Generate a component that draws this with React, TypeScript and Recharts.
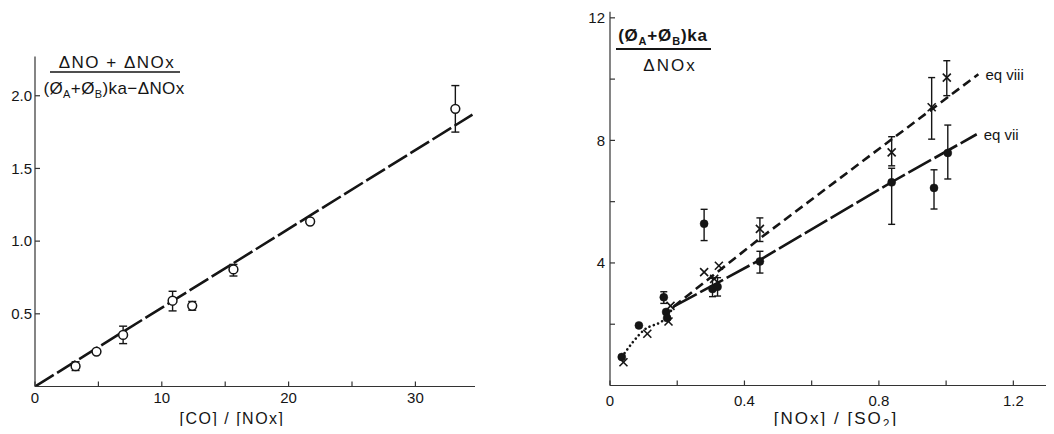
import React from 'react';
import { ComposedChart, Line, Scatter, XAxis, YAxis, ErrorBar, Label, ReferenceDot } from 'recharts';

// ---------- Left panel: [CO]/[NOx] ----------
const coRatio = [3.2, 4.85, 6.95, 10.85, 12.4, 15.65, 21.7, 33.15];
const coValue = [0.14, 0.24, 0.355, 0.59, 0.555, 0.805, 1.135, 1.91];
const coErrLow: (number | null)[] = [0.03, null, 0.06, 0.07, 0.03, 0.045, null, 0.16];
const coErrHigh: (number | null)[] = [0.03, null, 0.06, 0.065, 0.03, 0.035, null, 0.16];
const coFitX = [0, 34.5];
const coFitY = [0, 1.87];
const coXTicks = [0, 5, 10, 15, 20, 25, 30];
const coXTickLabels = ['0', '', '10', '', '20', '', '30'];
const coYTicks = [0.5, 1.0, 1.5, 2.0];
const coYTickLabels = ['0.5', '1.0', '1.5', '2.0'];

// ---------- Right panel: [NOx]/[SO2] ----------
const dotX = [0.035, 0.086, 0.16, 0.167, 0.17, 0.28, 0.305, 0.32, 0.446, 0.838, 0.964, 1.005];
const dotY = [0.93, 1.96, 2.88, 2.4, 2.2, 5.28, 3.15, 3.22, 4.05, 6.63, 6.45, 7.59];
const dotErrLow: (number | null)[] = [null, null, 0.2, null, null, 0.55, 0.25, 0.3, 0.38, 1.37, 0.69, 0.85];
const dotErrHigh: (number | null)[] = [null, null, 0.18, null, null, 0.47, 0.35, 0.3, 0.33, 0.46, 0.59, 0.91];

const crossX = [0.04, 0.111, 0.174, 0.18, 0.28, 0.31, 0.324, 0.446, 0.838, 0.957, 1.002];
const crossY = [0.76, 1.69, 2.09, 2.6, 3.7, 3.48, 3.91, 5.11, 7.61, 9.08, 10.05];
const crossErrLow: (number | null)[] = [null, null, null, null, null, null, null, 0.41, 0.44, 1.04, 0.59];
const crossErrHigh: (number | null)[] = [null, null, null, null, null, null, null, 0.36, 0.51, 0.97, 0.55];

const dottedX = [0.035, 0.1, 0.165, 0.19];
const dottedY = [0.93, 1.8, 2.2, 2.58];
const eqViiiX = [0.19, 0.446, 0.84, 1.096];
const eqViiiY = [2.58, 4.8, 8.05, 10.16];
const eqViiX = [0.19, 0.446, 0.84, 1.091];
const eqViiY = [2.58, 4.1, 6.65, 8.2];

const soXTicks = [0, 0.2, 0.4, 0.6, 0.8, 1.0, 1.2];
const soXTickLabels = ['0', '', '0.4', '', '0.8', '', '1.2'];
const soYTicks = [2, 4, 6, 8, 10, 12];
const soYTickLabels = ['', '4', '', '8', '', '12'];

// ---------- build tables ----------
const toPoints = (xs: number[], ys: number[], lo?: (number | null)[], hi?: (number | null)[]) =>
  xs.map((x, i) => ({
    x,
    y: ys[i],
    err: lo && hi && lo[i] != null && hi[i] != null ? [lo[i] as number, hi[i] as number] : null,
  }));

const coPoints = toPoints(coRatio, coValue, coErrLow, coErrHigh);
const coFit = toPoints(coFitX, coFitY);
const dotPoints = toPoints(dotX, dotY, dotErrLow, dotErrHigh);
const crossPoints = toPoints(crossX, crossY, crossErrLow, crossErrHigh);
const dottedLine = toPoints(dottedX, dottedY);
const eqViiiLine = toPoints(eqViiiX, eqViiiY);
const eqViiLine = toPoints(eqViiX, eqViiY);

const FONT = '"Liberation Sans", Arial, sans-serif';
const INK = '#151515';
const AXIS = '#333';
const tickStyle = { fill: INK, fontSize: 15, fontFamily: FONT };

const OpenCircle = (p: any) =>
  p.cx == null ? null : <circle cx={p.cx} cy={p.cy} r={4.4} fill="#fff" stroke={INK} strokeWidth={1.5} />;
const FilledCircle = (p: any) =>
  p.cx == null ? null : <circle cx={p.cx} cy={p.cy} r={4} fill={INK} stroke={INK} strokeWidth={0.5} />;
const Cross = (p: any) => {
  if (p.cx == null) return null;
  const s = 4;
  return (
    <g stroke={INK} strokeWidth={1.6}>
      <line x1={p.cx - s} y1={p.cy - s} x2={p.cx + s} y2={p.cy + s} />
      <line x1={p.cx - s} y1={p.cy + s} x2={p.cx + s} y2={p.cy - s} />
    </g>
  );
};

const LeftYLabel = () => (
  <g fontFamily={FONT} fill={INK} fontSize={17}>
    <text x={117} y={68} textAnchor="middle" letterSpacing={1.5}>
      ΔNO + ΔNOx
    </text>
    <line x1={50} y1={72} x2={180} y2={72} stroke={INK} strokeWidth={1.6} />
    <text x={114} y={94} textAnchor="middle" letterSpacing={0.4}>
      <tspan>(Ø</tspan>
      <tspan dy={4} fontSize={11}>A</tspan>
      <tspan dy={-4}>+Ø</tspan>
      <tspan dy={4} fontSize={11}>B</tspan>
      <tspan dy={-4}>)ka−ΔNOx</tspan>
    </text>
  </g>
);

const LeftXLabel = () => (
  <text x={232} y={424} textAnchor="middle" fontFamily={FONT} fontSize={16} letterSpacing={1.5} fill={INK}>
    [CO] / [NOx]
  </text>
);

// right svg is offset by 540px
const RightYLabel = () => (
  <g fontFamily={FONT} fill={INK} fontSize={17}>
    <text x={123} y={41} textAnchor="middle" fontWeight="bold" letterSpacing={0.8}>
      <tspan>(Ø</tspan>
      <tspan dy={4} fontSize={11}>A</tspan>
      <tspan dy={-4}>+Ø</tspan>
      <tspan dy={4} fontSize={11}>B</tspan>
      <tspan dy={-4}>)ka</tspan>
    </text>
    <line x1={76} y1={49} x2={171} y2={49} stroke={INK} strokeWidth={1.8} />
    <text x={130} y={71} textAnchor="middle" letterSpacing={2}>
      ΔNOx
    </text>
  </g>
);

const RightXLabel = () => (
  <text x={296} y={424} textAnchor="middle" fontFamily={FONT} fontSize={17} letterSpacing={2} fill={INK}>
    <tspan>[NOx] / [SO</tspan>
    <tspan dy={4} fontSize={12}>2</tspan>
    <tspan dy={-4}>]</tspan>
  </text>
);

const eqLabel = (value: string) => ({
  value,
  position: 'right' as const,
  offset: 7,
  fill: INK,
  fontSize: 15,
  fontFamily: FONT,
});

export default function App() {
  return (
    <div style={{ position: 'relative', width: 1054, height: 434, margin: -8, background: '#fff', overflow: 'hidden' }}>
      <div style={{ position: 'absolute', left: 0, top: 0 }}>
        <ComposedChart width={520} height={434} margin={{ top: 56.5, right: 45, bottom: 17.5, left: 0 }}>
          <XAxis
            dataKey="x"
            type="number"
            domain={[0, 34.7]}
            allowDataOverflow
            ticks={coXTicks}
            tickFormatter={(_v: any, i: number) => coXTickLabels[i]}
            interval={0}
            height={30}
            tickSize={-5}
            tickMargin={11}
            tick={tickStyle}
            axisLine={{ stroke: AXIS, strokeWidth: 1.2 }}
            tickLine={{ stroke: AXIS, strokeWidth: 1.2 }}
          >
            <Label content={() => <LeftXLabel />} />
          </XAxis>
          <YAxis
            dataKey="y"
            type="number"
            domain={[0, 2.27]}
            allowDataOverflow
            ticks={coYTicks}
            tickFormatter={(_v: any, i: number) => coYTickLabels[i]}
            interval={0}
            width={35}
            tickSize={-5}
            tickMargin={8}
            tick={tickStyle}
            axisLine={{ stroke: AXIS, strokeWidth: 1.2 }}
            tickLine={{ stroke: AXIS, strokeWidth: 1.2 }}
          >
            <Label content={() => <LeftYLabel />} />
          </YAxis>
          <Line
            data={coFit}
            dataKey="y"
            type="linear"
            stroke={INK}
            strokeWidth={2.6}
            strokeDasharray="22 4"
            dot={false}
            activeDot={false}
            isAnimationActive={false}
          />
          <Scatter data={coPoints} dataKey="y" shape={OpenCircle} isAnimationActive={false}>
            <ErrorBar dataKey="err" direction="y" width={4} stroke={INK} strokeWidth={1.4} />
          </Scatter>
        </ComposedChart>
      </div>
      <div style={{ position: 'absolute', left: 540, top: 0 }}>
        <ComposedChart width={514} height={434} margin={{ top: 11.7, right: 1, bottom: 18.5, left: 0 }}>
          <XAxis
            dataKey="x"
            type="number"
            domain={[0, 1.318]}
            allowDataOverflow
            ticks={soXTicks}
            tickFormatter={(_v: any, i: number) => soXTickLabels[i]}
            interval={0}
            height={30}
            tickSize={-5}
            tickMargin={15}
            tick={tickStyle}
            axisLine={{ stroke: AXIS, strokeWidth: 1.2 }}
            tickLine={{ stroke: AXIS, strokeWidth: 1.2 }}
          >
            <Label content={() => <RightXLabel />} />
          </XAxis>
          <YAxis
            dataKey="y"
            type="number"
            domain={[0, 12.2]}
            allowDataOverflow
            ticks={soYTicks}
            tickFormatter={(_v: any, i: number) => soYTickLabels[i]}
            interval={0}
            width={70}
            tickSize={-5}
            tickMargin={10}
            tick={tickStyle}
            axisLine={{ stroke: AXIS, strokeWidth: 1.2 }}
            tickLine={{ stroke: AXIS, strokeWidth: 1.2 }}
          >
            <Label content={() => <RightYLabel />} />
          </YAxis>
          <Line
            data={dottedLine}
            dataKey="y"
            type="monotone"
            stroke={INK}
            strokeWidth={2.6}
            strokeLinecap="round"
            strokeDasharray="0.1 4.5"
            dot={false}
            activeDot={false}
            isAnimationActive={false}
          />
          <Line
            data={eqViiiLine}
            dataKey="y"
            type="linear"
            stroke={INK}
            strokeWidth={2.6}
            strokeDasharray="9 5"
            dot={false}
            activeDot={false}
            isAnimationActive={false}
          />
          <Line
            data={eqViiLine}
            dataKey="y"
            type="linear"
            stroke={INK}
            strokeWidth={2.6}
            strokeDasharray="26 4"
            dot={false}
            activeDot={false}
            isAnimationActive={false}
          />
          <Scatter data={dotPoints} dataKey="y" shape={FilledCircle} isAnimationActive={false}>
            <ErrorBar dataKey="err" direction="y" width={3.5} stroke={INK} strokeWidth={1.4} />
          </Scatter>
          <Scatter data={crossPoints} dataKey="y" shape={Cross} isAnimationActive={false}>
            <ErrorBar dataKey="err" direction="y" width={3.5} stroke={INK} strokeWidth={1.4} />
          </Scatter>
          <ReferenceDot
            x={eqViiiX[eqViiiX.length - 1]}
            y={eqViiiY[eqViiiY.length - 1]}
            r={0}
            fill="none"
            stroke="none"
            ifOverflow="visible"
            label={eqLabel('eq viii')}
          />
          <ReferenceDot
            x={eqViiX[eqViiX.length - 1]}
            y={eqViiY[eqViiY.length - 1]}
            r={0}
            fill="none"
            stroke="none"
            ifOverflow="visible"
            label={eqLabel('eq vii')}
          />
        </ComposedChart>
      </div>
    </div>
  );
}
